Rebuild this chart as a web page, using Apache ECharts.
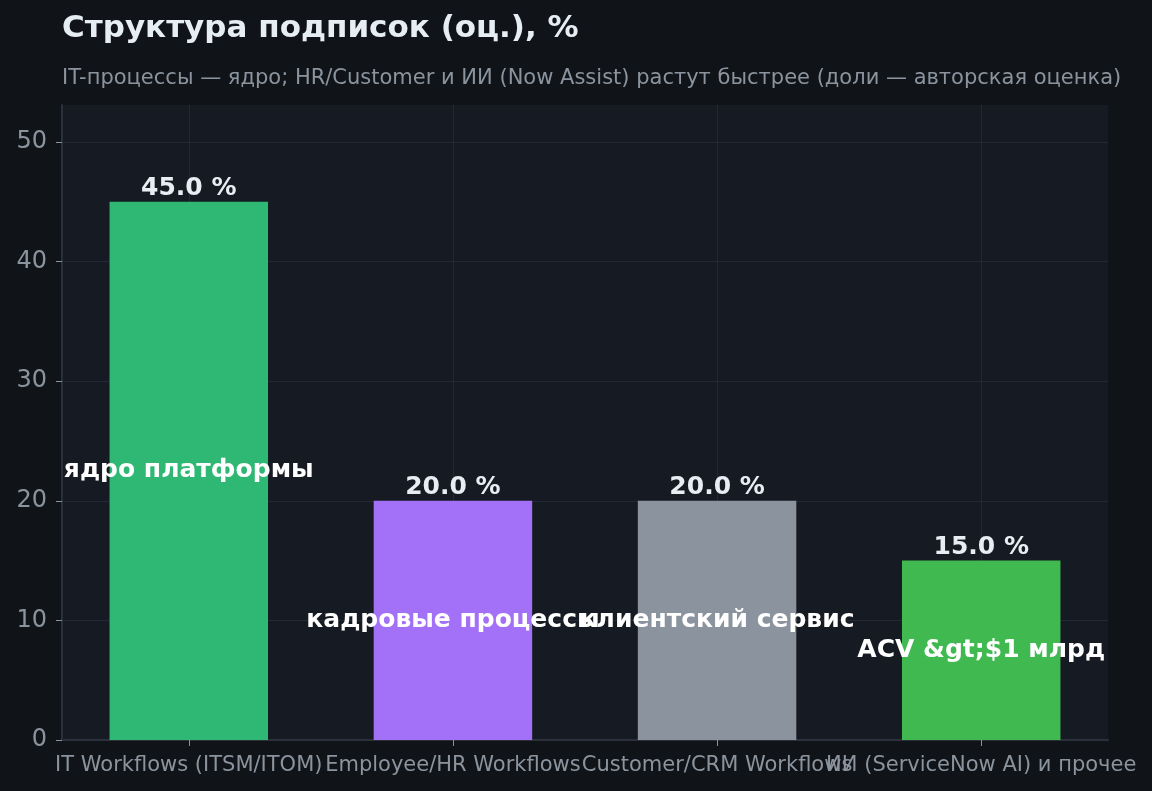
<!DOCTYPE html>
<html>
<head>
<meta charset="utf-8">
<script src="https://cdn.jsdelivr.net/npm/echarts@6/dist/echarts.min.js"></script>
<style>
  html, body { margin: 0; padding: 0; background: #101418; }
  #chart { width: 1152px; height: 791px; }
</style>
</head>
<body>
<div id="chart"></div>
<script>
// данные графика
const categories = ['IT Workflows (ITSM/ITOM)', 'Employee/HR Workflows', 'Customer/CRM Workflows', 'ИИ (ServiceNow AI) и прочее'];
const shares = [45, 20, 20, 15];
const notes = ['ядро платформы', 'кадровые процессы', 'клиентский сервис', 'ACV &gt;$1 млрд'];
const barColors = ['#2fb874', '#a371f7', '#8b949e', '#3fb950'];
const yTicks = [0, 10, 20, 30, 40, 50];
const xTicks = categories.map((c, i) => i);

const font = 'DejaVu Sans, sans-serif';
const gridColor = '#232933';
const chart = echarts.init(document.getElementById('chart'));

const option = {
  backgroundColor: '#101418',
  animation: false,
  title: {
    text: 'Структура подписок (оц.), %',
    subtext: 'IT-процессы — ядро; HR/Customer и ИИ (Now Assist) растут быстрее (доли — авторская оценка)',
    left: 57,
    top: 8,
    itemGap: 24,
    textStyle: { color: '#e6edf3', fontFamily: font, fontSize: 31, fontWeight: 'bold' },
    subtextStyle: { color: '#8b949e', fontFamily: font, fontSize: 21 }
  },
  grid: {
    left: 62, right: 44, top: 105, bottom: 51,
    show: true, backgroundColor: '#161a22', borderWidth: 0
  },
  xAxis: {
    // числовая ось с полями как у категорий
    type: 'value',
    min: -0.48,
    max: 3.48,
    axisLine: { show: true, onZero: false, lineStyle: { color: '#2a313b', width: 2 } },
    axisTick: { show: true, length: 6, lineStyle: { color: '#8b949e' }, customValues: xTicks },
    // подписи категорий рисуются отдельной серией ниже (перекрываются, как в оригинале)
    axisLabel: { show: true, customValues: xTicks, formatter: () => '' },
    splitLine: { show: true, lineStyle: { color: gridColor, width: 1 } }
  },
  yAxis: {
    type: 'value',
    min: 0,
    max: 53.1,
    axisLine: { show: true, onZero: false, lineStyle: { color: '#2a313b', width: 2 } },
    axisTick: { show: true, length: 6, lineStyle: { color: '#8b949e' }, customValues: yTicks },
    axisLabel: { color: '#8b949e', fontFamily: font, fontSize: 24, margin: 15, customValues: yTicks },
    splitLine: { show: true, lineStyle: { color: gridColor, width: 1 } }
  },
  series: [
    {
      type: 'bar',
      barWidth: '60%',
      barGap: '-100%',
      data: shares.map((v, i) => ({ value: [i, v], itemStyle: { color: barColors[i] } })),
      label: {
        show: true,
        position: 'top',
        distance: 1,
        color: '#e6edf3',
        fontFamily: font,
        fontSize: 25,
        fontWeight: 'bold',
        formatter: p => p.value[1].toFixed(1) + ' %'
      },
      z: 3
    },
    {
      // подписи внутри столбцов
      type: 'bar',
      barWidth: '60%',
      barGap: '-100%',
      data: shares.map((v, i) => [i, v]),
      itemStyle: { color: 'rgba(0,0,0,0)' },
      label: {
        show: true,
        position: 'inside',
        color: '#ffffff',
        fontFamily: font,
        fontSize: 25,
        fontWeight: 'bold',
        overflow: 'none',
        formatter: p => notes[p.dataIndex]
      },
      z: 4
    },
    {
      // подписи категорий под осью
      type: 'bar',
      barWidth: '60%',
      barGap: '-100%',
      silent: true,
      data: categories.map((c, i) => [i, 0]),
      itemStyle: { color: 'rgba(0,0,0,0)' },
      labelLayout: { hideOverlap: false },
      label: {
        show: true,
        position: 'bottom',
        distance: 15,
        color: '#8b949e',
        fontFamily: font,
        fontSize: 21,
        overflow: 'none',
        formatter: p => categories[p.dataIndex]
      },
      z: 4
    }
  ]
};

chart.setOption(option);
</script>
</body>
</html>
